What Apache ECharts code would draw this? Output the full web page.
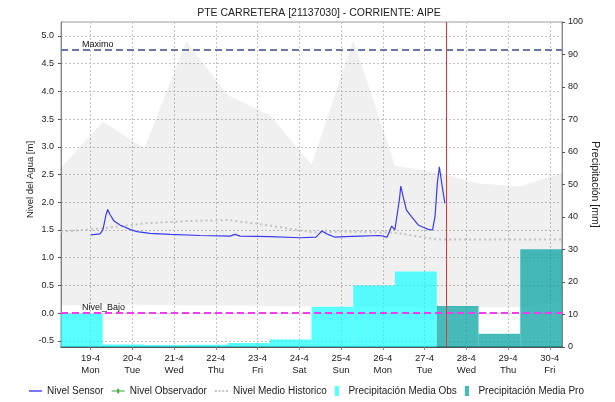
<!DOCTYPE html>
<html>
<head>
<meta charset="utf-8">
<script src="https://cdn.jsdelivr.net/npm/echarts@6/dist/echarts.min.js"></script>
<style>
  html, body { margin: 0; padding: 0; background: #fff; }
  #chart { width: 615px; height: 402px; }
</style>
</head>
<body>
<div id="chart"></div>
<script>
// Station header
const title = 'PTE CARRETERA [21137030] - CORRIENTE: AIPE';

// Hydrological day boundaries (07:00 to 07:00)
const dayBounds = [
  '2021-04-18 07:00', '2021-04-19 07:00', '2021-04-20 07:00', '2021-04-21 07:00',
  '2021-04-22 07:00', '2021-04-23 07:00', '2021-04-24 07:00', '2021-04-25 07:00',
  '2021-04-26 07:00', '2021-04-27 07:00', '2021-04-28 07:00', '2021-04-29 07:00',
  '2021-04-30 07:00'
];

// Midnight ticks on the time axis
const dayTicks = [
  '2021-04-19 00:00', '2021-04-20 00:00', '2021-04-21 00:00', '2021-04-22 00:00',
  '2021-04-23 00:00', '2021-04-24 00:00', '2021-04-25 00:00', '2021-04-26 00:00',
  '2021-04-27 00:00', '2021-04-28 00:00', '2021-04-29 00:00', '2021-04-30 00:00'
];
const weekDays = ['Sun', 'Mon', 'Tue', 'Wed', 'Thu', 'Fri', 'Sat'];

// Daily precipitation [mm]: observed days, then forecast days
const precipObs = [10.3, 0.8, 0.6, 0.7, 1.2, 2.3, 12.4, 18.9, 23.2];
const precipPro = [12.6, 4.1, 30.1];

// Historical envelope and mean level [m] at each day boundary
const histMax = [2.62, 3.45, 2.98, 4.90, 3.93, 3.57, 2.68, 4.93, 2.66, 2.54, 2.34, 2.29, 2.53];
const histMin = [0.14, 0.15, 0.15, 0.14, 0.14, 0.13, 0.12, 0.12, 0.11, 0.10, 0.10, 0.11, 0.20];
const histMedio = [1.47, 1.53, 1.62, 1.66, 1.68, 1.58, 1.46, 1.47, 1.45, 1.33, 1.33, 1.33, 1.33];

// Sensor water level [m]
const sensorTimes = [
  '2021-04-19 00:15', '2021-04-19 05:25', '2021-04-19 07:05', '2021-04-19 08:55',
  '2021-04-19 09:50', '2021-04-19 11:10', '2021-04-19 13:30', '2021-04-19 16:55',
  '2021-04-19 22:40', '2021-04-20 02:40', '2021-04-20 10:10', '2021-04-20 21:40',
  '2021-04-21 14:55', '2021-04-22 08:05', '2021-04-22 11:00', '2021-04-22 13:55',
  '2021-04-23 07:05', '2021-04-24 00:25', '2021-04-24 09:35', '2021-04-24 12:55',
  '2021-04-24 16:30', '2021-04-24 20:30', '2021-04-25 02:20', '2021-04-25 10:55',
  '2021-04-25 22:25', '2021-04-26 02:25', '2021-04-26 05:05', '2021-04-26 06:55',
  '2021-04-26 08:00', '2021-04-26 09:30', '2021-04-26 10:20', '2021-04-26 10:50',
  '2021-04-26 11:40', '2021-04-26 13:35', '2021-04-26 16:30', '2021-04-26 20:20',
  '2021-04-26 23:10', '2021-04-27 02:05', '2021-04-27 04:35', '2021-04-27 06:00',
  '2021-04-27 07:20', '2021-04-27 08:30', '2021-04-27 09:20', '2021-04-27 10:10',
  '2021-04-27 11:40'
];
const sensorLevel = [
  1.41, 1.43, 1.50, 1.78,
  1.87, 1.78, 1.66, 1.59,
  1.51, 1.47, 1.44, 1.42,
  1.40, 1.39, 1.42, 1.39,
  1.38, 1.36, 1.37, 1.48,
  1.42, 1.37, 1.38, 1.39,
  1.40, 1.37, 1.57, 1.50,
  1.47, 2.04, 2.29, 2.31,
  2.10, 1.86, 1.74, 1.59,
  1.55, 1.51, 1.50, 1.74,
  2.34, 2.64, 2.46, 2.28,
  1.98
];

// Observer readings (none in this period)
const observerLevel = [];

// Reference levels and current time
const levelMaximo = 4.75;
const levelBajo = 0.0;
const nowTime = '2021-04-27 12:20';

// Axis tick values
const levelTicks = [-0.5, 0, 0.5, 1, 1.5, 2, 2.5, 3, 3.5, 4, 4.5, 5];

// Local-time timestamp from 'YYYY-MM-DD HH:mm'
function ts(s) {
  const [d, t] = s.split(' ');
  const [y, m, day] = d.split('-').map(Number);
  const [hh, mm] = t.split(':').map(Number);
  return new Date(y, m - 1, day, hh, mm).getTime();
}
const FONT = '"Liberation Sans", Arial, sans-serif';

const chart = echarts.init(document.getElementById('chart'), null, { renderer: 'canvas' });

// Daily precipitation block spanning [start, end] up to its value
function rectItem(params, api) {
  const p0 = api.coord([api.value(0), api.value(2)]);
  const p1 = api.coord([api.value(1), 0]);
  return {
    type: 'rect',
    shape: { x: p0[0], y: p0[1], width: p1[0] - p0[0], height: p1[1] - p0[1] },
    style: api.style()
  };
}

// Historical min-max band drawn as one polygon
function bandItem(params, api) {
  if (params.dataIndexInside !== 0) return null;
  const n = params.dataInsideLength;
  const upper = [], lower = [];
  for (let i = 0; i < n; i++) {
    upper.push(api.coord([api.value(0, i), api.value(2, i)]));
    lower.push(api.coord([api.value(0, i), api.value(1, i)]));
  }
  return {
    type: 'polygon',
    shape: { points: upper.concat(lower.reverse()) },
    style: { fill: 'rgba(0,0,0,0.06)' }
  };
}

const dayTickValues = dayTicks.map(ts);
const lineIcon = 'path://M0,0H14V1.3H0Z';
const dotIcon = 'path://M0,0H2V2H0Z M4,0H6V2H4Z M8,0H10V2H8Z M12,0H14V2H12Z';
const markIcon = 'path://M0,3H14V4H0Z M6,1H8V6H6Z';
const barIcon = 'path://M0,0H5V12H0Z';

chart.setOption({
  animation: false,
  textStyle: { fontFamily: FONT },
  title: {
    text: title,
    left: 314,
    textAlign: 'center',
    top: 3,
    textStyle: { fontFamily: FONT, fontSize: 10.5, fontWeight: 'normal', color: '#222' }
  },
  grid: {
    left: 61, right: 53, top: 22, bottom: 55,
    show: true, borderColor: '#9a9a9a', borderWidth: 1
  },
  legend: {
    bottom: 1,
    left: 24,
    itemGap: 8,
    itemWidth: 13,
    itemHeight: 10,
    textStyle: { fontFamily: FONT, fontSize: 10, color: '#222' },
    data: [
      { name: 'Nivel Sensor', icon: lineIcon },
      { name: 'Nivel Observador', icon: markIcon },
      { name: 'Nivel Medio Historico', icon: dotIcon },
      { name: 'Precipitación Media Obs', icon: barIcon },
      { name: 'Precipitación Media Pro', icon: barIcon }
    ]
  },
  xAxis: {
    type: 'value',
    min: ts(dayBounds[0]),
    max: ts(dayBounds[dayBounds.length - 1]),
    axisLine: { onZero: false, lineStyle: { color: '#333', type: [1, 1], width: 1.5 } },
    axisTick: { show: true, length: 3, customValues: dayTickValues, lineStyle: { color: '#888' } },
    axisLabel: {
      customValues: dayTickValues,
      fontFamily: FONT, fontSize: 9.5, color: '#222', lineHeight: 12, margin: 5,
      formatter: v => {
        const d = new Date(v);
        return d.getDate() + '-' + (d.getMonth() + 1) + '\n' + weekDays[d.getDay()];
      }
    },
    splitLine: { show: true, lineStyle: { color: '#c4c4c4', type: [2, 2] } }
  },
  yAxis: [
    {
      type: 'value',
      min: -0.61,
      max: 5.25,
      name: 'Nivel del Agua [m]',
      nameLocation: 'middle',
      nameGap: 26,
      nameMoveOverlap: false,
      nameTextStyle: { fontFamily: FONT, fontSize: 9.5, color: '#222', padding: [0, 0, 0, 10] },
      axisLine: { show: true, lineStyle: { color: '#888' } },
      axisTick: { show: true, length: 3, customValues: levelTicks, lineStyle: { color: '#555' } },
      axisLabel: {
        customValues: levelTicks,
        fontFamily: FONT, fontSize: 9, color: '#222', margin: 7,
        formatter: v => v.toFixed(1)
      },
      splitLine: { show: true, lineStyle: { color: '#c4c4c4', type: [2, 2] } }
    },
    {
      type: 'value',
      min: 0,
      max: 100,
      interval: 10,
      position: 'right',
      name: 'Precipitación [mm]',
      nameLocation: 'middle',
      nameGap: 27,
      nameMoveOverlap: false,
      nameRotate: -90,
      nameTextStyle: { fontFamily: FONT, fontSize: 10.5, color: '#222' },
      axisLine: { show: true, lineStyle: { color: '#888' } },
      axisTick: { show: true, length: 3, lineStyle: { color: '#555' } },
      axisLabel: { fontFamily: FONT, fontSize: 9, color: '#222', margin: 6 },
      splitLine: { show: false }
    }
  ],
  series: [
    {
      name: 'Rango Historico',
      type: 'custom',
      silent: true,
      z: 1,
      clip: true,
      renderItem: bandItem,
      encode: { x: 0, y: [1, 2] },
      data: dayBounds.map((t, i) => [ts(t), histMin[i], histMax[i]])
    },
    {
      name: 'Precipitación Media Obs',
      type: 'custom',
      yAxisIndex: 1,
      z: 2,
      clip: true,
      renderItem: rectItem,
      itemStyle: { color: 'rgba(10,255,255,0.68)' },
      encode: { x: [0, 1], y: 2 },
      data: precipObs.map((v, i) => [ts(dayBounds[i]), ts(dayBounds[i + 1]), v])
    },
    {
      name: 'Precipitación Media Pro',
      type: 'custom',
      yAxisIndex: 1,
      z: 2,
      clip: true,
      renderItem: rectItem,
      itemStyle: { color: 'rgba(0,160,160,0.72)' },
      encode: { x: [0, 1], y: 2 },
      data: precipPro.map((v, i) => [
        ts(dayBounds[precipObs.length + i]),
        ts(dayBounds[precipObs.length + i + 1]),
        v
      ])
    },
    {
      name: 'Nivel Medio Historico',
      type: 'line',
      symbol: 'none',
      z: 3,
      lineStyle: { color: '#c2c2c2', width: 2, type: [2, 3] },
      itemStyle: { color: '#c2c2c2' },
      data: dayBounds.map((t, i) => [ts(t), histMedio[i]])
    },
    {
      name: 'Nivel Observador',
      type: 'line',
      symbol: 'circle',
      symbolSize: 3,
      z: 4,
      lineStyle: { color: '#33aa33', width: 1 },
      itemStyle: { color: '#33aa33' },
      data: observerLevel
    },
    {
      name: 'Nivel Sensor',
      type: 'line',
      symbol: 'none',
      z: 5,
      lineStyle: { color: '#3a3af0', width: 1.2 },
      itemStyle: { color: '#2020ee' },
      data: sensorTimes.map((t, i) => [ts(t), sensorLevel[i]]),
      markLine: {
        silent: true,
        symbol: 'none',
        z: 6,
        data: [
          {
            yAxis: levelMaximo,
            lineStyle: { color: '#6a78a8', width: 2, type: [7, 4] },
            label: {
              show: true, formatter: 'Maximo', position: 'insideStartTop',
              distance: [21, 1], color: '#111', fontFamily: FONT, fontSize: 9
            }
          },
          {
            yAxis: levelBajo,
            lineStyle: { color: '#f23cf2', width: 2, type: [7, 4] },
            label: {
              show: true, formatter: 'Nivel_Bajo', position: 'insideStartTop',
              distance: [21, 1], color: '#111', fontFamily: FONT, fontSize: 9
            }
          },
          {
            xAxis: ts(nowTime),
            lineStyle: { color: '#ff2a2a', width: 1, type: 'solid' },
            label: { show: false }
          }
        ]
      }
    }
  ]
});
</script>
</body>
</html>
